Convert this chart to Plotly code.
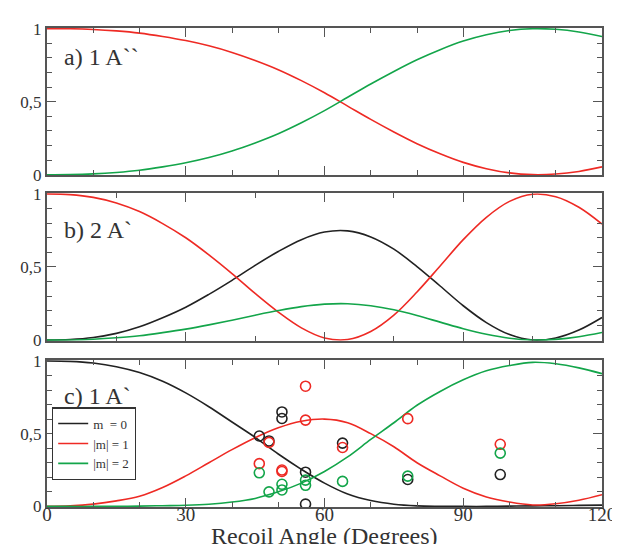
import plotly.graph_objects as go

# Recoil angle grid (degrees)
theta = [0, 5, 10, 15, 20, 25, 30, 35, 40, 45, 50, 55, 60, 65, 70, 75, 80, 85, 90, 95, 100, 105, 110, 115, 120]

# Panel a) 1 A``
a_m1 = [1.0, 0.999, 0.994, 0.984, 0.969, 0.946, 0.918, 0.882, 0.837, 0.782, 0.719, 0.644, 0.561, 0.470, 0.379, 0.293, 0.213, 0.144, 0.085, 0.042, 0.013, 0.001, 0.005, 0.023, 0.054]
a_m2 = [0.0, 0.001, 0.006, 0.016, 0.031, 0.054, 0.082, 0.118, 0.163, 0.218, 0.281, 0.356, 0.439, 0.530, 0.621, 0.707, 0.787, 0.856, 0.915, 0.958, 0.987, 0.999, 0.995, 0.977, 0.946]

# Panel b) 2 A`
b_m0 = [0.0, 0.004, 0.018, 0.046, 0.091, 0.153, 0.225, 0.313, 0.409, 0.511, 0.606, 0.687, 0.739, 0.747, 0.706, 0.622, 0.503, 0.370, 0.235, 0.120, 0.038, 0.001, 0.015, 0.069, 0.155]
b_m1 = [1.0, 0.995, 0.976, 0.938, 0.879, 0.797, 0.700, 0.583, 0.455, 0.319, 0.192, 0.084, 0.015, 0.004, 0.059, 0.171, 0.329, 0.507, 0.687, 0.840, 0.949, 0.998, 0.981, 0.909, 0.794]
b_m2 = [0.0, 0.001, 0.006, 0.016, 0.030, 0.051, 0.075, 0.104, 0.136, 0.170, 0.202, 0.229, 0.246, 0.249, 0.235, 0.207, 0.168, 0.123, 0.078, 0.040, 0.013, 0.001, 0.005, 0.023, 0.052]

# Panel c) 1 A`
c_m0 = [1.0, 0.997, 0.985, 0.960, 0.920, 0.860, 0.780, 0.685, 0.580, 0.475, 0.360, 0.255, 0.160, 0.085, 0.040, 0.015, 0.004, 0.001, 0.0, 0.0, 0.002, 0.004, 0.005, 0.007, 0.009]
c_m1 = [0.0, 0.004, 0.016, 0.038, 0.070, 0.130, 0.210, 0.300, 0.390, 0.472, 0.540, 0.585, 0.600, 0.575, 0.500, 0.410, 0.300, 0.210, 0.125, 0.065, 0.030, 0.010, 0.018, 0.042, 0.080]
c_m2 = [0.0, 0.0, 0.0, 0.001, 0.002, 0.005, 0.008, 0.015, 0.030, 0.055, 0.100, 0.160, 0.240, 0.340, 0.460, 0.575, 0.695, 0.790, 0.870, 0.932, 0.968, 0.990, 0.980, 0.952, 0.912]

# Panel c) measured points
pt_theta = [45.9, 48.0, 50.8, 50.8, 55.9, 55.9, 63.9, 78.0, 98.0]
pt_m0 = [0.484, 0.450, 0.649, 0.604, 0.235, 0.016, 0.435, 0.185, 0.219]
pt_m1 = [0.294, 0.440, 0.250, 0.240, 0.826, 0.593, 0.405, 0.603, 0.427]
pt_m2 = [0.231, 0.100, 0.152, 0.113, 0.181, 0.145, 0.172, 0.208, 0.366]

panel_labels = ["a) 1 A``", "b) 2 A`", "c) 1 A`"]
x_ticks = [0, 30, 60, 90, 120]
y_ticks = [0, 0.5, 1]
y_tick_text = ["0", "0,5", "1"]
legend_names = ["m  = 0", "|m| = 1", "|m| = 2"]

BLACK = "#222222"
RED = "#ee2a24"
GREEN = "#13a54a"
FRAME = "#555555"
FONT = "Liberation Serif"

fig = go.Figure()

def line(x, y, color, ax, name=None, show=False):
    fig.add_trace(go.Scatter(x=x, y=y, mode="lines", line=dict(color=color, width=1.6, shape="spline", smoothing=1.0),
                             xaxis=ax[0], yaxis=ax[1], name=name, showlegend=show, hoverinfo="skip"))

line(theta, a_m1, RED, ("x", "y"))
line(theta, a_m2, GREEN, ("x", "y"))
line(theta, b_m0, BLACK, ("x2", "y2"))
line(theta, b_m1, RED, ("x2", "y2"))
line(theta, b_m2, GREEN, ("x2", "y2"))
line(theta, c_m0, BLACK, ("x3", "y3"), legend_names[0], True)
line(theta, c_m1, RED, ("x3", "y3"), legend_names[1], True)
line(theta, c_m2, GREEN, ("x3", "y3"), legend_names[2], True)

for vals, color in [(pt_m0, BLACK), (pt_m1, RED), (pt_m2, GREEN)]:
    fig.add_trace(go.Scatter(x=pt_theta, y=vals, mode="markers", xaxis="x3", yaxis="y3", showlegend=False,
                             marker=dict(symbol="circle-open", size=10, color=color, line=dict(width=1.6, color=color))))

H = 544 - 18 - 45
def dom(top, bot):
    return [(499 - bot) / H, (499 - top) / H]

def py(px):
    return (499 - px) / H

domains = [dom(18, 166), dom(184, 332), dom(351.7, 499)]
minor_x = [10, 15, 10]
label_centers = [47, 221, 388]

def xaxis(i):
    return dict(domain=[0, 1], range=[0, 120], tickvals=x_ticks, ticks="inside", ticklen=9, tickwidth=1.3,
                tickcolor=FRAME, showline=True, linecolor=FRAME, linewidth=2, mirror="ticks", showgrid=False,
                zeroline=False, showticklabels=False,
                minor=dict(dtick=minor_x[i], tick0=0, ticks="inside", ticklen=5, tickcolor=FRAME, tickwidth=1.2, showgrid=False),
                anchor=["y", "y2", "y3"][i])

def yaxis(i):
    return dict(domain=domains[i], range=[-0.004, 1.004], tickvals=y_ticks, ticktext=y_tick_text, ticks="inside",
                ticklen=9, tickwidth=1.3, tickcolor=FRAME, showline=True, linecolor=FRAME, linewidth=2,
                mirror="ticks", showgrid=False, zeroline=False, tickfont=dict(family=FONT, size=17, color="#333"),
                minor=dict(dtick=0.1, tick0=0, ticks="inside", ticklen=5, tickcolor=FRAME, tickwidth=1.2, showgrid=False),
                anchor=["x", "x2", "x3"][i])

layout = dict(
    width=620, height=544, margin=dict(l=36, r=16, t=18, b=45),
    paper_bgcolor="white", plot_bgcolor="white",
    font=dict(family=FONT, color="#333"),
    legend=dict(x=0.009, y=py(399), xanchor="left", yanchor="top", bordercolor="#333", borderwidth=1.2,
                bgcolor="white", font=dict(family=FONT, size=13, color="#333"), tracegroupgap=0, itemwidth=30),
)
for i in range(3):
    layout["xaxis" + ("" if i == 0 else str(i + 1))] = xaxis(i)
    layout["yaxis" + ("" if i == 0 else str(i + 1))] = yaxis(i)
# tick labels for the bottom panel, on an overlaying axis sitting just above the frame
layout["xaxis4"] = dict(overlaying="x3", anchor="free", position=6 / H, range=[0, 120], tickvals=x_ticks,
                        showline=False, ticks="", showgrid=False, zeroline=False,
                        tickfont=dict(family=FONT, size=19, color="#333"), domain=[0, 1])
fig.update_layout(**layout)
# invisible trace to activate the label axis
fig.add_trace(go.Scatter(x=[0, 120], y=[None, None], xaxis="x4", yaxis="y3", showlegend=False,
                         mode="lines", hoverinfo="skip"))

for i, txt in enumerate(panel_labels):
    fig.add_annotation(text=txt, xref="paper", yref="paper",
                       x=(51 - 36) / 568, y=py(label_centers[i]), xanchor="left", yanchor="middle", showarrow=False,
                       font=dict(family=FONT, size=24, color="#333"))

fig.add_annotation(text="Recoil Angle (Degrees)", xref="paper", yref="paper", x=0.5, y=py(528),
                   xanchor="center", yanchor="middle", showarrow=False, font=dict(family=FONT, size=24, color="#333"))

fig.write_html("out.html")
